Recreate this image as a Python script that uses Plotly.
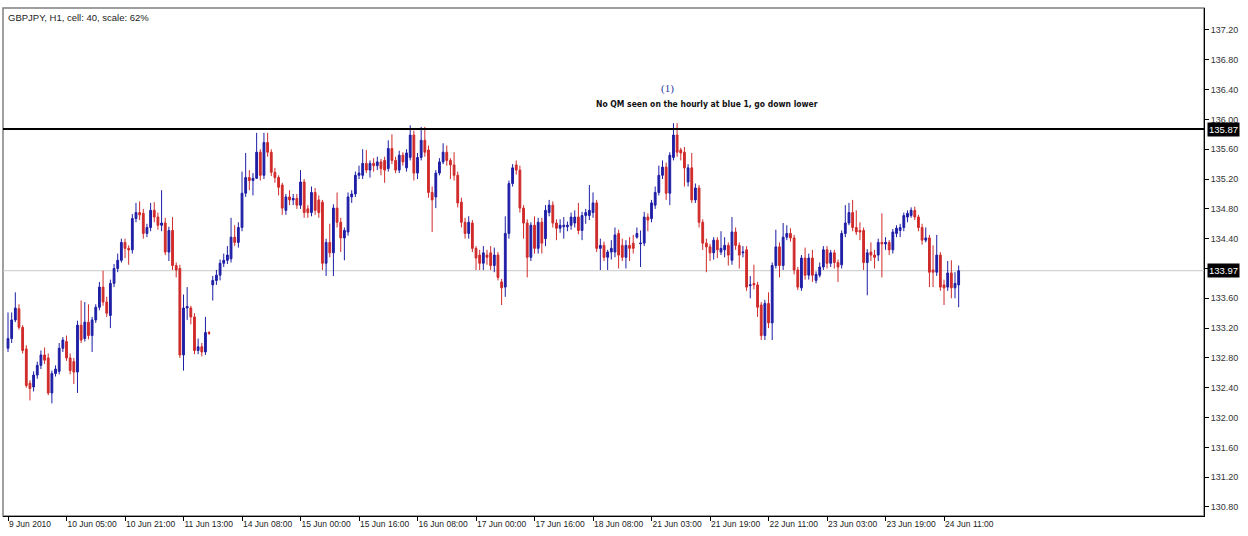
import plotly.graph_objects as go

# ---- data (GBPJPY H1, 9-24 Jun 2010) ----
opens = [
    132.93, 133.06, 133.31, 133.46, 133.21, 132.92, 132.46, 132.41, 132.57, 132.70,
    132.84, 132.80, 132.33, 132.59, 132.62, 132.93, 133.02, 132.80, 132.75, 132.61,
    133.24, 133.06, 133.28, 133.10, 133.31, 133.48, 133.75, 133.55, 133.37, 133.80,
    134.00, 134.11, 134.35, 134.27, 134.25, 134.67, 134.75, 134.74, 134.47, 134.55,
    134.78, 134.69, 134.58, 134.61, 134.22, 134.51, 134.04, 134.00, 132.84, 133.47,
    133.47, 133.35, 132.90, 132.95, 132.88, 133.14, 133.78, 133.84, 133.91, 134.07,
    134.11, 134.13, 134.42, 134.35, 134.55, 135.01, 135.22, 135.18, 135.21, 135.56,
    135.25, 135.69, 135.56, 135.29, 135.22, 135.12, 134.78, 134.96, 134.92, 134.94,
    134.85, 135.16, 134.80, 134.75, 135.02, 134.92, 134.89, 134.07, 134.35, 134.21,
    134.81, 134.62, 134.41, 134.49, 134.96, 135.00, 135.25, 135.25, 135.41, 135.32,
    135.41, 135.38, 135.43, 135.45, 135.34, 135.61, 135.45, 135.32, 135.52, 135.35,
    135.49, 135.79, 135.28, 135.49, 135.72, 135.59, 135.02, 134.96, 135.28, 135.43,
    135.56, 135.45, 135.39, 135.25, 134.89, 134.62, 134.47, 134.61, 134.27, 134.18,
    134.07, 134.18, 134.21, 134.04, 134.18, 133.82, 133.75, 134.47, 135.14, 135.39,
    135.32, 134.81, 134.61, 134.15, 134.58, 134.27, 134.62, 134.40, 134.75, 134.85,
    134.61, 134.54, 134.56, 134.56, 134.58, 134.61, 134.69, 134.51, 134.71, 134.71,
    134.75, 134.88, 134.27, 134.31, 134.15, 134.22, 134.22, 134.47, 134.31, 134.15,
    134.31, 134.34, 134.42, 134.33, 134.34, 134.69, 134.67, 134.85, 135.02, 135.25,
    135.36, 135.01, 135.49, 135.79, 135.59, 135.56, 135.16, 135.35, 134.92, 135.08,
    134.62, 134.34, 134.29, 134.21, 134.38, 134.22, 134.25, 134.31, 134.11, 134.49,
    134.31, 134.21, 134.25, 133.77, 133.80, 133.78, 133.51, 133.10, 133.53, 133.27,
    134.04, 134.29, 134.04, 134.42, 134.47, 134.41, 133.98, 133.74, 134.14, 133.91,
    134.14, 133.84, 133.91, 134.02, 134.25, 134.07, 134.21, 134.08, 134.05, 134.47,
    134.61, 134.75, 134.55, 134.51, 134.51, 134.08, 134.22, 134.18, 134.18, 134.35,
    134.33, 134.35, 134.25, 134.47, 134.51, 134.55, 134.69, 134.71, 134.78, 134.69,
    134.55, 134.38, 134.41, 133.98, 133.95, 134.18, 133.78, 133.75, 133.94, 133.74,
    133.78,
]
highs = [
    133.41, 133.41, 133.68, 133.52, 133.24, 132.97, 132.50, 132.62, 132.75, 132.90,
    132.94, 132.86, 132.63, 132.70, 133.00, 133.08, 133.10, 132.86, 132.80, 133.30,
    133.57, 133.55, 133.52, 133.35, 133.52, 133.82, 133.97, 133.62, 133.85, 134.06,
    134.20, 134.40, 134.40, 134.31, 134.73, 134.88, 134.90, 134.80, 134.60, 134.88,
    134.89, 134.75, 135.05, 134.68, 134.56, 134.69, 134.08, 134.05, 133.65, 133.75,
    133.50, 133.40, 133.06, 133.00, 133.35, 133.16, 133.90, 133.98, 134.12, 134.20,
    134.30, 134.68, 134.58, 134.62, 135.30, 135.55, 135.32, 135.28, 135.82, 135.60,
    135.82, 135.82, 135.60, 135.35, 135.25, 135.15, 135.00, 135.05, 135.00, 135.00,
    135.32, 135.20, 134.85, 135.10, 135.08, 134.98, 134.92, 134.40, 134.60, 134.86,
    135.02, 134.68, 134.55, 135.02, 135.05, 135.30, 135.38, 135.60, 135.59, 135.45,
    135.48, 135.50, 135.47, 135.50, 135.72, 135.80, 135.50, 135.58, 135.56, 135.60,
    135.92, 135.85, 135.55, 135.90, 135.90, 135.65, 135.10, 135.32, 135.48, 135.68,
    135.65, 135.48, 135.56, 135.30, 134.95, 134.68, 134.70, 134.65, 134.30, 134.25,
    134.30, 134.25, 134.30, 134.28, 134.22, 133.86, 134.70, 135.18, 135.40, 135.45,
    135.38, 134.85, 134.66, 134.62, 134.70, 134.68, 134.68, 134.85, 134.92, 134.90,
    134.66, 134.66, 134.69, 134.63, 134.75, 134.78, 134.88, 134.76, 134.80, 135.12,
    135.02, 134.92, 134.40, 134.36, 134.25, 134.38, 134.55, 134.52, 134.40, 134.38,
    134.42, 134.45, 134.55, 134.51, 134.76, 134.74, 134.92, 135.10, 135.38, 135.45,
    135.42, 135.56, 135.95, 135.95, 135.62, 135.63, 135.40, 135.55, 135.14, 135.12,
    134.66, 134.40, 134.33, 134.42, 134.42, 134.50, 134.42, 134.35, 134.69, 134.55,
    134.35, 134.30, 134.30, 133.90, 134.05, 133.82, 133.55, 133.58, 133.68, 134.08,
    134.52, 134.35, 134.61, 134.58, 134.54, 134.45, 134.02, 134.18, 134.28, 134.20,
    134.25, 133.96, 134.08, 134.30, 134.30, 134.25, 134.25, 134.12, 134.51, 134.85,
    134.88, 134.92, 134.78, 134.62, 134.55, 134.26, 134.35, 134.25, 134.40, 134.74,
    134.42, 134.38, 134.53, 134.58, 134.60, 134.75, 134.78, 134.82, 134.83, 134.72,
    134.60, 134.55, 134.45, 134.31, 134.45, 134.22, 133.85, 134.10, 134.11, 133.95,
    134.04,
]
lows = [
    132.88, 133.00, 133.28, 133.18, 132.86, 132.40, 132.23, 132.35, 132.52, 132.65,
    132.72, 132.30, 132.19, 132.55, 132.58, 132.88, 132.76, 132.58, 132.45, 132.33,
    133.00, 133.02, 133.05, 132.88, 133.27, 133.44, 133.50, 133.35, 133.20, 133.75,
    133.95, 134.08, 134.14, 134.05, 134.20, 134.62, 134.65, 134.40, 134.42, 134.50,
    134.62, 134.52, 134.50, 134.18, 134.10, 133.98, 133.88, 132.80, 132.63, 133.31,
    133.25, 132.85, 132.85, 132.82, 132.84, 133.11, 133.57, 133.78, 133.84, 134.02,
    134.06, 134.08, 134.30, 134.28, 134.50, 134.96, 135.05, 134.98, 135.20, 135.18,
    135.20, 135.50, 135.24, 135.15, 134.98, 134.72, 134.72, 134.85, 134.85, 134.80,
    134.80, 134.68, 134.68, 134.70, 134.72, 134.68, 133.98, 133.90, 134.15, 133.90,
    134.55, 134.22, 134.11, 134.44, 134.88, 134.96, 135.20, 135.20, 135.28, 135.22,
    135.30, 135.32, 135.25, 135.15, 135.30, 135.40, 135.28, 135.28, 135.38, 135.30,
    135.45, 135.18, 135.20, 135.45, 135.50, 134.95, 134.49, 134.81, 135.25, 135.40,
    135.38, 135.20, 135.18, 134.82, 134.55, 134.40, 134.40, 134.22, 133.98, 133.98,
    133.98, 134.05, 133.98, 133.95, 133.84, 133.51, 133.62, 134.40, 135.10, 135.26,
    134.75, 134.40, 133.88, 134.10, 134.20, 134.20, 134.20, 134.30, 134.70, 134.55,
    134.38, 134.48, 134.40, 134.50, 134.52, 134.55, 134.46, 134.38, 134.60, 134.65,
    134.68, 134.22, 133.98, 134.10, 133.98, 134.12, 134.15, 134.00, 134.10, 134.00,
    134.10, 134.20, 134.40, 134.02, 134.30, 134.50, 134.62, 134.80, 134.98, 135.20,
    134.92, 134.85, 135.45, 135.50, 135.45, 135.10, 135.10, 134.88, 134.88, 134.55,
    134.25, 133.95, 134.10, 134.12, 134.14, 134.18, 134.15, 134.04, 134.05, 134.25,
    134.00, 134.15, 133.70, 133.60, 133.72, 133.35, 133.04, 133.04, 133.20, 133.04,
    134.00, 133.88, 133.98, 134.38, 134.36, 133.92, 133.71, 133.70, 133.85, 133.85,
    133.82, 133.80, 133.88, 133.98, 134.00, 134.02, 134.00, 133.82, 134.00, 134.42,
    134.58, 134.50, 134.45, 134.38, 133.98, 133.64, 134.10, 134.00, 134.10, 133.88,
    134.25, 134.18, 134.20, 134.42, 134.42, 134.50, 134.62, 134.68, 134.65, 134.50,
    134.32, 134.35, 133.75, 133.75, 133.90, 133.70, 133.51, 133.70, 133.60, 133.60,
    133.48,
]
closes = [
    133.06, 133.31, 133.47, 133.21, 132.90, 132.43, 132.39, 132.57, 132.70, 132.84,
    132.77, 132.33, 132.59, 132.65, 132.93, 133.04, 132.80, 132.63, 132.61, 133.24,
    133.04, 133.28, 133.10, 133.31, 133.48, 133.75, 133.55, 133.40, 133.80, 134.00,
    134.11, 134.35, 134.27, 134.25, 134.67, 134.75, 134.72, 134.47, 134.55, 134.78,
    134.69, 134.58, 134.61, 134.22, 134.51, 134.04, 133.98, 132.84, 133.47, 133.49,
    133.35, 132.90, 132.95, 132.88, 133.14, 133.13, 133.84, 133.91, 134.07, 134.11,
    134.18, 134.42, 134.35, 134.55, 135.01, 135.22, 135.18, 135.21, 135.56, 135.25,
    135.69, 135.56, 135.29, 135.22, 135.09, 134.81, 134.96, 134.92, 134.94, 134.85,
    135.16, 134.75, 134.75, 135.02, 134.78, 134.75, 134.07, 134.35, 134.21, 134.81,
    134.62, 134.41, 134.51, 134.96, 135.00, 135.25, 135.28, 135.41, 135.32, 135.41,
    135.38, 135.43, 135.34, 135.32, 135.61, 135.45, 135.32, 135.52, 135.43, 135.55,
    135.79, 135.28, 135.49, 135.72, 135.56, 135.02, 134.92, 135.28, 135.43, 135.56,
    135.45, 135.39, 135.25, 134.88, 134.62, 134.47, 134.62, 134.27, 134.14, 134.07,
    134.21, 134.15, 134.04, 134.18, 133.88, 133.74, 134.47, 135.14, 135.35, 135.32,
    134.81, 134.61, 134.15, 134.58, 134.27, 134.62, 134.34, 134.78, 134.85, 134.61,
    134.54, 134.58, 134.58, 134.58, 134.69, 134.69, 134.51, 134.71, 134.75, 134.78,
    134.88, 134.27, 134.31, 134.15, 134.22, 134.27, 134.45, 134.18, 134.15, 134.31,
    134.27, 134.27, 134.47, 134.34, 134.69, 134.65, 134.88, 135.02, 135.25, 135.36,
    135.01, 135.52, 135.79, 135.56, 135.55, 135.35, 135.35, 134.92, 135.08, 134.62,
    134.34, 134.29, 134.21, 134.38, 134.25, 134.27, 134.31, 134.18, 134.49, 134.31,
    134.18, 134.22, 133.75, 133.78, 133.78, 133.48, 133.10, 133.53, 133.27, 134.04,
    134.29, 134.04, 134.42, 134.47, 134.41, 133.98, 133.75, 134.14, 133.91, 134.14,
    133.91, 133.92, 134.02, 134.25, 134.07, 134.21, 134.08, 134.02, 134.47, 134.61,
    134.75, 134.55, 134.49, 134.49, 134.08, 134.21, 134.18, 134.15, 134.35, 134.33,
    134.35, 134.25, 134.49, 134.54, 134.55, 134.71, 134.74, 134.78, 134.69, 134.55,
    134.38, 134.41, 133.95, 133.95, 134.18, 133.75, 133.74, 133.94, 133.74, 133.80,
    133.97,
]

time_labels = ["9 Jun 2010", "10 Jun 05:00", "10 Jun 21:00", "11 Jun 13:00",
               "14 Jun 08:00", "15 Jun 00:00", "15 Jun 16:00", "16 Jun 08:00",
               "17 Jun 00:00", "17 Jun 16:00", "18 Jun 08:00", "21 Jun 03:00",
               "21 Jun 19:00", "22 Jun 11:00", "23 Jun 03:00", "23 Jun 19:00",
               "24 Jun 11:00"]
price_ticks = [130.80, 131.20, 131.60, 132.00, 132.40, 132.80, 133.20, 133.60,
               134.00, 134.40, 134.80, 135.20, 135.60, 136.00, 136.40, 136.80, 137.20]
level_line = 135.87
bid_price = 133.97
title_text = "GBPJPY, H1, cell: 40, scale: 62%"
note_mark = "(1)"
note_text = "No QM seen on the hourly at blue 1, go down lower"

bars = list(range(len(closes)))
label_pos = list(range(0, len(closes), 16))[:len(time_labels)]

BLUE = "#1e1ea6"
RED = "#d02a2a"
FONT = "Liberation Sans, Arial, sans-serif"

fig = go.Figure(go.Candlestick(
    x=bars, open=opens, high=highs, low=lows, close=closes,
    increasing=dict(line=dict(color=BLUE, width=1), fillcolor=BLUE),
    decreasing=dict(line=dict(color=RED, width=1), fillcolor=RED),
    whiskerwidth=0, showlegend=False, hoverinfo="x+y",
))

fig.update_layout(
    width=1248, height=536,
    margin=dict(l=3, r=44, t=8, b=20),
    paper_bgcolor="white", plot_bgcolor="white",
    font=dict(family=FONT, size=9, color="#222222"),
    showlegend=False,
    xaxis=dict(
        range=[-1.37, 327.1], rangeslider=dict(visible=False),
        tickmode="array", tickvals=label_pos, ticktext=time_labels,
        ticks="outside", ticklen=4, tickcolor="#000000",
        ticklabelposition="outside right",
        showgrid=False, zeroline=False,
        showline=True, linecolor="#000000", linewidth=1,
        tickfont=dict(size=8.5, color="#222222"),
        fixedrange=True,
    ),
    yaxis=dict(
        side="right", range=[130.679, 137.495],
        tickmode="array", tickvals=price_ticks, tickformat=".2f",
        ticks="outside", ticklen=4, tickcolor="#000000",
        showgrid=False, zeroline=False,
        showline=True, linecolor="#000000", linewidth=1,
        tickfont=dict(size=9, color="#333333"),
        fixedrange=True,
    ),
    shapes=[
        dict(type="rect", xref="paper", yref="paper", x0=0, x1=1, y0=0, y1=1,
             line=dict(color="#808080", width=1.5), layer="below"),
        dict(type="line", xref="paper", yref="y", x0=0, x1=1,
             y0=bid_price, y1=bid_price, line=dict(color="#c8c8c8", width=1),
             layer="below"),
        dict(type="line", xref="paper", yref="y", x0=0, x1=1,
             y0=level_line, y1=level_line, line=dict(color="#000000", width=2),
             layer="above"),
    ],
    annotations=[
        dict(xref="paper", yref="paper", x=0, y=1, xanchor="left", yanchor="top",
             xshift=3, yshift=-2, text=title_text, showarrow=False,
             font=dict(size=9.5, color="#222222")),
        dict(xref="paper", yref="y", x=1, y=level_line, xanchor="left",
             yanchor="middle", xshift=3, text=f"{level_line:.2f}", showarrow=False,
             bgcolor="#000000", borderpad=1, font=dict(size=9.5, color="white")),
        dict(xref="paper", yref="y", x=1, y=bid_price, xanchor="left",
             yanchor="middle", xshift=3, text=f"{bid_price:.2f}", showarrow=False,
             bgcolor="#000000", borderpad=1, font=dict(size=9.5, color="white")),
        dict(xref="x", yref="y", x=180.5, y=136.42, text=note_mark, showarrow=False,
             font=dict(family="Liberation Serif, Times New Roman, serif",
                       size=11, color="#2a3fa0")),
        dict(xref="x", yref="y", x=191.2, y=136.21, text=f"<b>{note_text}</b>",
             showarrow=False,
             font=dict(family="DejaVu Sans Condensed, Liberation Sans Narrow, Arial Narrow, sans-serif",
                       size=8.5, color="#111111")),
    ],
)

fig.write_html("out.html",
               config={"displayModeBar": False},
               post_script="document.body.style.margin='0';document.body.style.padding='0';")
